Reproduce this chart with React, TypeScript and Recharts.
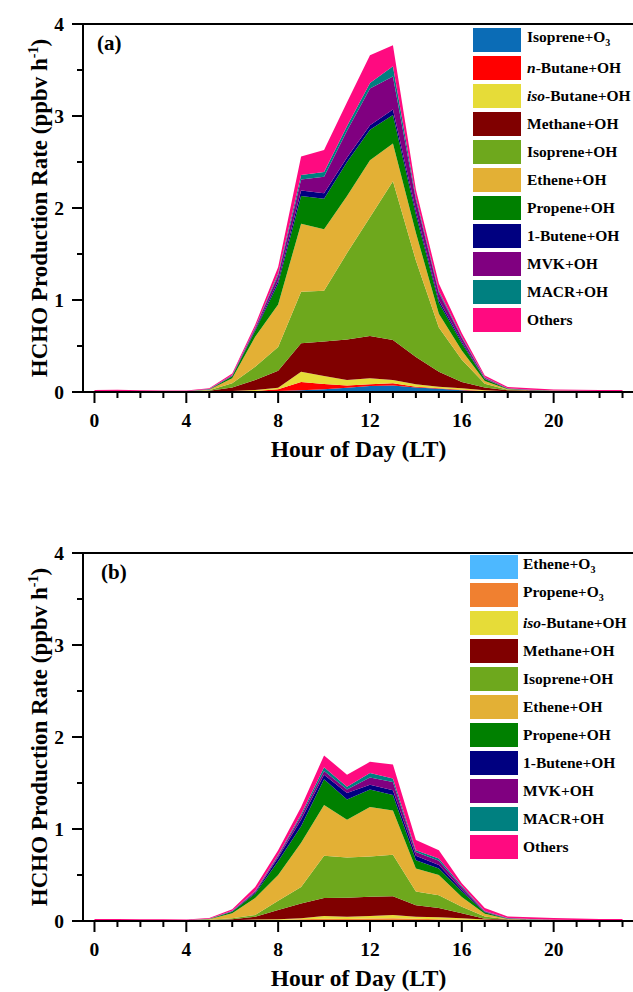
import React from 'react';
import { AreaChart, Area, XAxis, YAxis, Legend } from 'recharts';

const hours = [0, 1, 2, 3, 4, 5, 6, 7, 8, 9, 10, 11, 12, 13, 14, 15, 16, 17, 18, 19, 20, 21, 22, 23];
const yTicks = [0, 0.5, 1, 1.5, 2, 2.5, 3, 3.5, 4];
const majorXTicks = [0, 4, 8, 12, 16, 20];
const majorYTicks = [0, 1, 2, 3, 4];

// Panel (a)
const aIsopreneO3 = [0, 0, 0, 0, 0, 0.001, 0.003, 0.006, 0.01, 0.02, 0.03, 0.047, 0.065, 0.072, 0.05, 0.036, 0.02, 0.005, 0.003, 0.002, 0.001, 0.001, 0, 0];
const aNButane = [0.001, 0.001, 0.001, 0.001, 0.001, 0.002, 0.004, 0.006, 0.02, 0.09, 0.057, 0.025, 0.018, 0.022, 0.008, 0.004, 0.005, 0.005, 0.002, 0.001, 0.001, 0.001, 0.001, 0.001];
const aIsoButane = [0.001, 0.001, 0.001, 0.001, 0.001, 0.002, 0.005, 0.01, 0.017, 0.11, 0.087, 0.058, 0.067, 0.036, 0.025, 0.018, 0.015, 0.01, 0.003, 0.002, 0.002, 0.001, 0.001, 0.001];
const aMethane = [0.005, 0.006, 0.005, 0.004, 0.004, 0.008, 0.038, 0.108, 0.183, 0.31, 0.376, 0.44, 0.46, 0.435, 0.297, 0.162, 0.07, 0.03, 0.012, 0.01, 0.008, 0.007, 0.006, 0.006];
const aIsopreneOH = [0, 0, 0, 0, 0, 0.005, 0.044, 0.145, 0.26, 0.56, 0.55, 0.94, 1.29, 1.725, 1.05, 0.48, 0.24, 0.04, 0.005, 0, 0, 0, 0, 0];
const aEtheneOH = [0.002, 0.002, 0.002, 0.002, 0.002, 0.006, 0.056, 0.325, 0.46, 0.74, 0.67, 0.62, 0.62, 0.41, 0.3, 0.15, 0.1, 0.03, 0.005, 0.003, 0.002, 0.002, 0.002, 0.002];
const aPropeneOH = [0.001, 0.001, 0.001, 0.001, 0.001, 0.004, 0.02, 0.065, 0.23, 0.3, 0.33, 0.37, 0.33, 0.31, 0.2, 0.12, 0.08, 0.02, 0.005, 0.002, 0.001, 0.001, 0.001, 0.001];
const aButeneOH = [0, 0, 0, 0, 0, 0.001, 0.005, 0.015, 0.03, 0.06, 0.06, 0.05, 0.05, 0.06, 0.04, 0.03, 0.02, 0.005, 0.002, 0.001, 0, 0, 0, 0];
const aMvkOH = [0.001, 0.001, 0.001, 0.001, 0.001, 0.002, 0.007, 0.015, 0.06, 0.12, 0.18, 0.29, 0.4, 0.36, 0.12, 0.08, 0.04, 0.01, 0.003, 0.002, 0.001, 0.001, 0.001, 0.001];
const aMacrOH = [0, 0, 0, 0, 0, 0.001, 0.003, 0.005, 0.02, 0.05, 0.05, 0.05, 0.06, 0.11, 0.03, 0.02, 0.01, 0.005, 0.002, 0.001, 0, 0, 0, 0];
const aOthers = [0.011, 0.013, 0.009, 0.007, 0.006, 0.008, 0.015, 0.03, 0.07, 0.2, 0.24, 0.26, 0.3, 0.23, 0.08, 0.08, 0.04, 0.02, 0.013, 0.016, 0.012, 0.01, 0.009, 0.01];

// Panel (b)
const bEtheneO3 = [0, 0, 0, 0, 0, 0.001, 0.002, 0.004, 0.006, 0.008, 0.01, 0.01, 0.012, 0.012, 0.01, 0.008, 0.006, 0.003, 0.002, 0.001, 0.001, 0, 0, 0];
const bPropeneO3 = [0.001, 0.001, 0.001, 0.001, 0.001, 0.001, 0.002, 0.004, 0.006, 0.01, 0.014, 0.012, 0.014, 0.018, 0.015, 0.012, 0.009, 0.005, 0.002, 0.001, 0.001, 0.001, 0.001, 0.001];
const bIsoButane = [0.001, 0.001, 0.001, 0.001, 0.001, 0.002, 0.004, 0.007, 0.008, 0.012, 0.03, 0.025, 0.028, 0.035, 0.022, 0.02, 0.015, 0.007, 0.003, 0.002, 0.001, 0.001, 0.001, 0.001];
const bMethane = [0.005, 0.005, 0.004, 0.004, 0.004, 0.007, 0.012, 0.032, 0.1, 0.16, 0.196, 0.207, 0.21, 0.205, 0.123, 0.1, 0.053, 0.01, 0.008, 0.008, 0.007, 0.006, 0.005, 0.005];
const bIsopreneOH = [0, 0, 0, 0, 0, 0.002, 0.01, 0.018, 0.1, 0.18, 0.46, 0.436, 0.436, 0.45, 0.15, 0.14, 0.073, 0.025, 0.003, 0, 0, 0, 0, 0];
const bEtheneOH = [0.002, 0.002, 0.002, 0.002, 0.002, 0.005, 0.053, 0.185, 0.28, 0.48, 0.55, 0.41, 0.54, 0.48, 0.25, 0.22, 0.104, 0.03, 0.004, 0.003, 0.002, 0.002, 0.002, 0.002];
const bPropeneOH = [0.001, 0.001, 0.001, 0.001, 0.001, 0.003, 0.017, 0.05, 0.15, 0.18, 0.28, 0.22, 0.19, 0.17, 0.09, 0.07, 0.06, 0.015, 0.003, 0.002, 0.001, 0.001, 0.001, 0.001];
const bButeneOH = [0, 0, 0, 0, 0, 0.001, 0.005, 0.01, 0.04, 0.07, 0.05, 0.07, 0.05, 0.05, 0.05, 0.04, 0.02, 0.005, 0.002, 0.001, 0, 0, 0, 0];
const bMvkOH = [0.001, 0.001, 0.001, 0.001, 0.001, 0.001, 0.005, 0.01, 0.02, 0.04, 0.04, 0.04, 0.08, 0.09, 0.04, 0.046, 0.026, 0.007, 0.003, 0.002, 0.001, 0.001, 0.001, 0.001];
const bMacrOH = [0, 0, 0, 0, 0, 0.001, 0.002, 0.005, 0.01, 0.02, 0.04, 0.03, 0.05, 0.04, 0.02, 0.024, 0.014, 0.003, 0.002, 0.001, 0, 0, 0, 0];
const bOthers = [0.01, 0.011, 0.009, 0.008, 0.007, 0.009, 0.015, 0.045, 0.05, 0.08, 0.13, 0.13, 0.12, 0.15, 0.11, 0.09, 0.03, 0.03, 0.018, 0.02, 0.018, 0.015, 0.012, 0.01];

const C = {
  blue: '#0b6cb6',
  red: '#ff0000',
  yellow: '#e6dc38',
  maroon: '#800000',
  lime: '#6ea81d',
  orange: '#e3b035',
  green: '#008000',
  navy: '#000080',
  purple: '#800080',
  teal: '#008080',
  pink: '#ff0a80',
  sky: '#4db8ff',
  tangerine: '#f08030',
};

const seriesA = [
  { key: 'isopreneO3', name: 'Isoprene+O3', color: C.blue, values: aIsopreneO3 },
  { key: 'nButane', name: 'n-Butane+OH', color: C.red, values: aNButane },
  { key: 'isoButane', name: 'iso-Butane+OH', color: C.yellow, values: aIsoButane },
  { key: 'methane', name: 'Methane+OH', color: C.maroon, values: aMethane },
  { key: 'isopreneOH', name: 'Isoprene+OH', color: C.lime, values: aIsopreneOH },
  { key: 'etheneOH', name: 'Ethene+OH', color: C.orange, values: aEtheneOH },
  { key: 'propeneOH', name: 'Propene+OH', color: C.green, values: aPropeneOH },
  { key: 'buteneOH', name: '1-Butene+OH', color: C.navy, values: aButeneOH },
  { key: 'mvkOH', name: 'MVK+OH', color: C.purple, values: aMvkOH },
  { key: 'macrOH', name: 'MACR+OH', color: C.teal, values: aMacrOH },
  { key: 'others', name: 'Others', color: C.pink, values: aOthers },
];

const seriesB = [
  { key: 'etheneO3', name: 'Ethene+O3', color: C.sky, values: bEtheneO3 },
  { key: 'propeneO3', name: 'Propene+O3', color: C.tangerine, values: bPropeneO3 },
  { key: 'isoButane', name: 'iso-Butane+OH', color: C.yellow, values: bIsoButane },
  { key: 'methane', name: 'Methane+OH', color: C.maroon, values: bMethane },
  { key: 'isopreneOH', name: 'Isoprene+OH', color: C.lime, values: bIsopreneOH },
  { key: 'etheneOH', name: 'Ethene+OH', color: C.orange, values: bEtheneOH },
  { key: 'propeneOH', name: 'Propene+OH', color: C.green, values: bPropeneOH },
  { key: 'buteneOH', name: '1-Butene+OH', color: C.navy, values: bButeneOH },
  { key: 'mvkOH', name: 'MVK+OH', color: C.purple, values: bMvkOH },
  { key: 'macrOH', name: 'MACR+OH', color: C.teal, values: bMacrOH },
  { key: 'others', name: 'Others', color: C.pink, values: bOthers },
];

const FONT = '"Liberation Serif", "Times New Roman", serif';

function LegendName({ name }: { name: string }) {
  let prefix = '';
  let rest = name;
  if (rest.startsWith('iso-')) { prefix = 'iso'; rest = rest.slice(3); }
  else if (rest.startsWith('n-')) { prefix = 'n'; rest = rest.slice(1); }
  let sub = '';
  if (rest.endsWith('O3')) { sub = '3'; rest = rest.slice(0, -1); }
  return (
    <span>
      {prefix && <i>{prefix}</i>}
      {rest}
      {sub && <sub style={{ fontSize: 10, verticalAlign: -4 }}>{sub}</sub>}
    </span>
  );
}

function LegendBox({ series, textGap }: { series: any[]; textGap: number }) {
  return (
    <div style={{ fontFamily: FONT, fontWeight: 'bold', fontSize: 15.5, color: '#000' }}>
      {series.map((s) => (
        <div key={s.key} style={{ display: 'flex', alignItems: 'center', height: 28 }}>
          <div style={{ width: 48, height: 24, background: s.color, flex: '0 0 auto' }} />
          <div style={{ marginLeft: textGap, whiteSpace: 'nowrap', lineHeight: '24px' }}>
            <LegendName name={s.name} />
          </div>
        </div>
      ))}
    </div>
  );
}

const XTick = (props: any) => {
  const { x, y, payload } = props;
  const major = majorXTicks.includes(payload.value);
  return (
    <g>
      <line x1={x} x2={x} y1={y} y2={y + (major ? 11 : 6)} stroke="#000" strokeWidth={2} />
      {major && (
        <text x={x} y={y + 35} textAnchor="middle" fontSize={19.5} fontWeight="bold" fontFamily={FONT} fill="#000">
          {payload.value}
        </text>
      )}
    </g>
  );
};

const YTick = (props: any) => {
  const { x, y, payload } = props;
  const major = majorYTicks.includes(payload.value);
  return (
    <g>
      <line x1={x - (major ? 11 : 6)} x2={x} y1={y} y2={y} stroke="#000" strokeWidth={2} />
      {major && (
        <text x={x - 19} y={y + 6.5} textAnchor="end" fontSize={19.5} fontWeight="bold" fontFamily={FONT} fill="#000">
          {payload.value}
        </text>
      )}
    </g>
  );
};

function Panel({ series, tag, tagX, legendLeft, legendTop, textGap }: any) {
  const data = hours.map((h, i) => {
    const row: any = { hour: h };
    series.forEach((s: any) => { row[s.key] = s.values[i]; });
    return row;
  });
  const xLabel = (p: any) => {
    const vb = p.viewBox || { x: 83, width: 551, y: 392 };
    return (
      <text x={vb.x + vb.width / 2} y={vb.y + 65} textAnchor="middle" fontSize={23.5} fontWeight="bold" fontFamily={FONT} fill="#000">
        Hour of Day (LT)
      </text>
    );
  };
  const yLabel = (p: any) => {
    const vb = p.viewBox || { x: 0, y: 24, width: 83, height: 368 };
    return (
      <g>
        <text transform={`translate(47,${vb.y + vb.height / 2}) rotate(-90)`} textAnchor="middle" fontSize={23} fontWeight="bold" fontFamily={FONT} fill="#000">
          HCHO Production Rate (ppbv h<tspan dy={-9} fontSize={14}>-1</tspan><tspan dy={9}>)</tspan>
        </text>
        <text x={tagX} y={vb.y + 26} fontSize={21} fontWeight="bold" fontFamily={FONT} fill="#000">{tag}</text>
      </g>
    );
  };
  return (
    <AreaChart width={640} height={470} data={data} margin={{ top: 23, right: 6, bottom: 8, left: 0 }}>
      {series.map((s: any) => (
        <Area
          key={s.key}
          type="linear"
          dataKey={s.key}
          name={s.name}
          stackId="1"
          stroke="none"
          fill={s.color}
          fillOpacity={1}
          isAnimationActive={false}
          dot={false}
          activeDot={false}
        />
      ))}
      <XAxis
        dataKey="hour"
        type="number"
        domain={[-0.5, 23.5]}
        ticks={hours}
        interval={0}
        tickSize={0}
        tickMargin={0}
        tickLine={false}
        axisLine={{ stroke: '#000', strokeWidth: 2 }}
        tick={<XTick />}
        height={70}
        label={xLabel}
        allowDataOverflow
      />
      <XAxis
        xAxisId="top"
        orientation="top"
        dataKey="hour"
        type="number"
        domain={[-0.5, 23.5]}
        height={1}
        tick={false}
        tickLine={false}
        axisLine={{ stroke: '#000', strokeWidth: 2 }}
        allowDataOverflow
      />
      <YAxis
        type="number"
        domain={[0, 4]}
        ticks={yTicks}
        interval={0}
        tickSize={0}
        tickMargin={0}
        tickLine={false}
        axisLine={{ stroke: '#000', strokeWidth: 2 }}
        tick={<YTick />}
        width={83}
        label={yLabel}
        allowDataOverflow
      />
      <Legend
        layout="vertical"
        align="center"
        verticalAlign="middle"
        wrapperStyle={{ left: legendLeft, top: legendTop, width: 170, height: 'auto' }}
        content={() => <LegendBox series={series} textGap={textGap} />}
      />
    </AreaChart>
  );
}

export default function App() {
  return (
    <div style={{ position: 'relative', width: 633, height: 992, overflow: 'hidden', background: '#fff' }}>
      <style>{'body{margin:0;overflow:hidden;background:#fff}'}</style>
      <div style={{ position: 'absolute', left: 0, top: 0 }}>
        <Panel series={seriesA} tag="(a)" tagX={97} legendLeft={473} legendTop={26} textGap={6} />
      </div>
      <div style={{ position: 'absolute', left: 0, top: 529 }}>
        <Panel series={seriesB} tag="(b)" tagX={101} legendLeft={470} legendTop={24} textGap={5} />
      </div>
    </div>
  );
}
